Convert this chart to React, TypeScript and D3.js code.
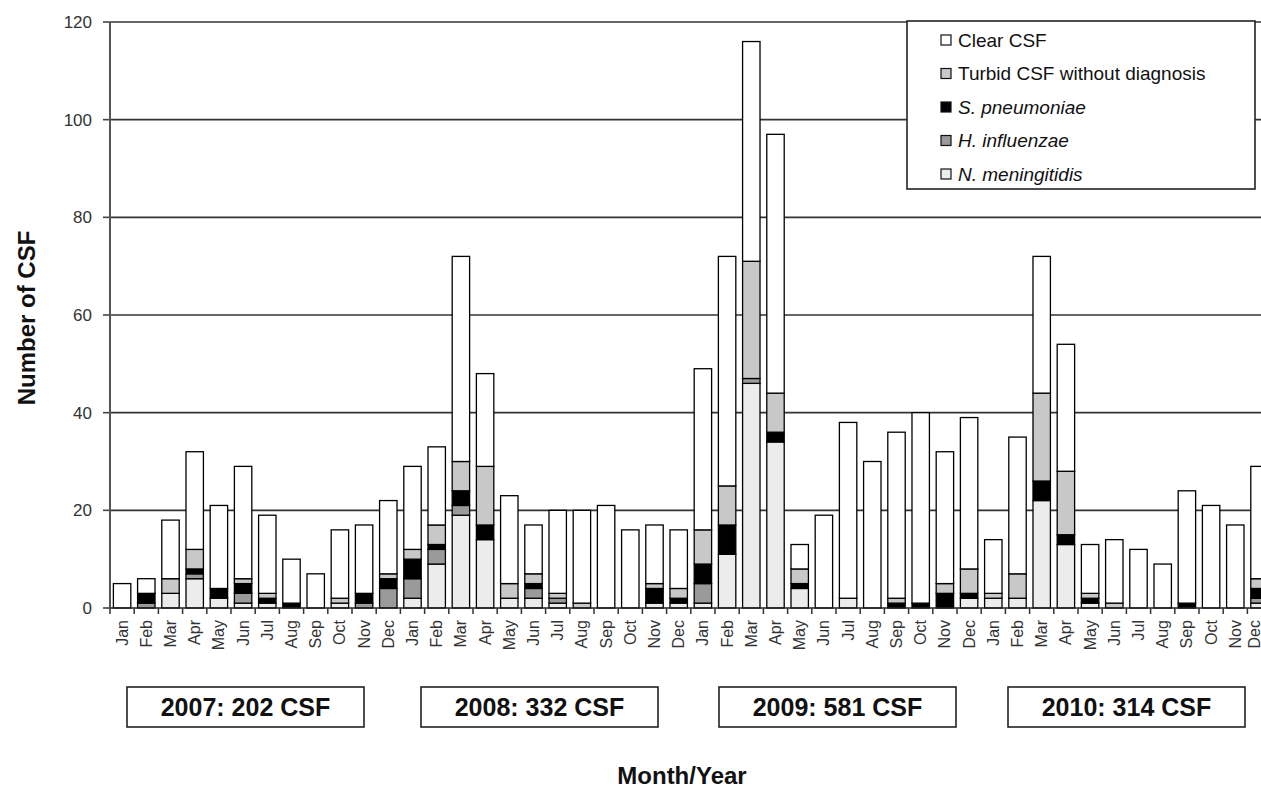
import React from "react";
import * as d3 from "d3";

const monthNames = ["Jan","Feb","Mar","Apr","May","Jun","Jul","Aug","Sep","Oct","Nov","Dec"];
const years = [2007, 2008, 2009, 2010];
const yearTotals = [202, 332, 581, 314];
const yTicks = [0, 20, 40, 60, 80, 100, 120];

// 48 months, Jan 2007 .. Dec 2010
const nMeningitidis = [
  0,0,3,6,2,1,1,0,0,1,0,0,
  2,9,19,14,2,2,1,0,0,0,1,1,
  1,11,46,34,4,0,2,0,0,0,0,2,
  2,2,22,13,1,0,0,0,0,0,0,1,
];
const hInfluenzae = [
  0,1,0,1,0,2,0,0,0,0,1,4,
  4,3,2,0,0,2,1,0,0,0,0,0,
  4,0,1,0,0,0,0,0,0,0,0,0,
  0,0,0,0,0,0,0,0,0,0,0,1,
];
const sPneumoniae = [
  0,2,0,1,2,2,1,1,0,0,2,2,
  4,1,3,3,0,1,0,0,0,0,3,1,
  4,6,0,2,1,0,0,0,1,1,3,1,
  0,0,4,2,1,0,0,0,1,0,0,2,
];
const turbid = [
  0,0,3,4,0,1,1,0,0,1,0,1,
  2,4,6,12,3,2,1,1,0,0,1,2,
  7,8,24,8,3,0,0,0,1,0,2,5,
  1,5,18,13,1,1,0,0,0,0,0,2,
];
const clear = [
  5,3,12,20,17,23,16,9,7,14,14,15,
  17,16,42,19,18,10,17,19,21,16,12,12,
  33,47,45,53,5,19,36,30,34,39,27,31,
  11,28,28,26,10,13,12,9,23,21,17,23,
];

const seriesKeys = ["nm", "hi", "sp", "turbid", "clear"];
const seriesColors: Record<string, string> = {
  nm: "#ececec",
  hi: "#9a9a9a",
  sp: "#000000",
  turbid: "#c8c8c8",
  clear: "#ffffff",
};
const legendItems = [
  { key: "clear", label: "Clear CSF", italic: false },
  { key: "turbid", label: "Turbid CSF without diagnosis", italic: false },
  { key: "sp", label: "S. pneumoniae", italic: true },
  { key: "hi", label: "H. influenzae", italic: true },
  { key: "nm", label: "N. meningitidis", italic: true },
];

const W = 1261;
const H = 789;
const left = 110;
const step = 24.2;
const top = 22;
const bottom = 608;
const yearBoxX = [127, 421, 719, 1008];
const yearBoxW = 237;

export default function App() {
  const n = clear.length;
  const rows = d3.range(n).map((i) => ({
    i,
    month: monthNames[i % 12],
    nm: nMeningitidis[i],
    hi: hInfluenzae[i],
    sp: sPneumoniae[i],
    turbid: turbid[i],
    clear: clear[i],
  }));
  const x = d3
    .scaleBand<number>()
    .domain(d3.range(n))
    .range([left, left + step * n])
    .paddingInner(0.28)
    .paddingOuter(0.14);
  const y = d3.scaleLinear().domain([0, 120]).range([bottom, top]);
  const stacked = d3.stack<any>().keys(seriesKeys)(rows);
  const font = "'Liberation Sans', Arial, Helvetica, sans-serif";
  const xEnd = left + step * n;

  return (
    <svg
      width={W}
      height={H}
      style={{ position: "absolute", left: 0, top: 0, background: "#fff" }}
      fontFamily={font}
    >
      {/* gridlines */}
      {yTicks.filter((t) => t > 0).map((t) => (
        <line key={t} x1={left} x2={xEnd} y1={y(t)} y2={y(t)} stroke="#333" strokeWidth={1.6} />
      ))}
      {/* y ticks & labels */}
      {yTicks.map((t) => (
        <g key={"yt" + t}>
          <line x1={left - 7} x2={left} y1={y(t)} y2={y(t)} stroke="#444" strokeWidth={1.6} />
          <text x={92} y={y(t)} dy="0.36em" textAnchor="end" fontSize={17} fill="#333">
            {t}
          </text>
        </g>
      ))}
      {/* bars */}
      {stacked.map((s) =>
        s.map((d, i) =>
          d[1] - d[0] > 0 ? (
            <rect
              key={s.key + i}
              x={x(i)}
              width={x.bandwidth()}
              y={y(d[1])}
              height={y(d[0]) - y(d[1])}
              fill={seriesColors[s.key]}
              stroke="#000"
              strokeWidth={1.3}
            />
          ) : null
        )
      )}
      {/* axes */}
      <line x1={left} x2={left} y1={top} y2={bottom} stroke="#555" strokeWidth={2} />
      <line x1={left} x2={xEnd} y1={bottom} y2={bottom} stroke="#222" strokeWidth={1.6} />
      {d3.range(n + 1).map((i) => (
        <line
          key={"xt" + i}
          x1={left + i * step}
          x2={left + i * step}
          y1={bottom}
          y2={bottom + 6}
          stroke="#333"
          strokeWidth={1.5}
        />
      ))}
      {rows.map((r) => {
        const cx = (x(r.i) as number) + x.bandwidth() / 2;
        return (
          <text
            key={"ml" + r.i}
            transform={`translate(${Math.min(cx, W - 7)},620) rotate(-90)`}
            textAnchor="end"
            dominantBaseline="central"
            fontSize={16}
            fill="#333"
          >
            {r.month}
          </text>
        );
      })}
      {/* year boxes */}
      {years.map((yr, k) => (
        <g key={yr}>
          <rect x={yearBoxX[k]} y={687} width={yearBoxW} height={40} fill="#fff" stroke="#222" strokeWidth={1.6} />
          <text
            x={yearBoxX[k] + yearBoxW / 2}
            y={716}
            textAnchor="middle"
            fontSize={25}
            fontWeight="bold"
            fill="#111"
          >
            {`${yr}: ${yearTotals[k]} CSF`}
          </text>
        </g>
      ))}
      {/* axis titles */}
      <text
        transform="translate(26,318) rotate(-90)"
        textAnchor="middle"
        dominantBaseline="central"
        fontSize={24}
        fontWeight="bold"
        fill="#111"
      >
        Number of CSF
      </text>
      <text x={682} y={784} textAnchor="middle" fontSize={24} fontWeight="bold" fill="#111">
        Month/Year
      </text>
      {/* legend */}
      <rect x={907} y={21} width={348} height={168} fill="#fff" stroke="#222" strokeWidth={1.6} />
      {legendItems.map((it, k) => {
        const cy = 40 + k * 33.5;
        return (
          <g key={it.key}>
            <rect x={941} y={cy - 5} width={10} height={10} fill={seriesColors[it.key]} stroke="#111" strokeWidth={1.2} />
            <text
              x={958}
              y={cy}
              dominantBaseline="central"
              fontSize={19}
              fontStyle={it.italic ? "italic" : "normal"}
              fill="#111"
            >
              {it.label}
            </text>
          </g>
        );
      })}
    </svg>
  );
}
